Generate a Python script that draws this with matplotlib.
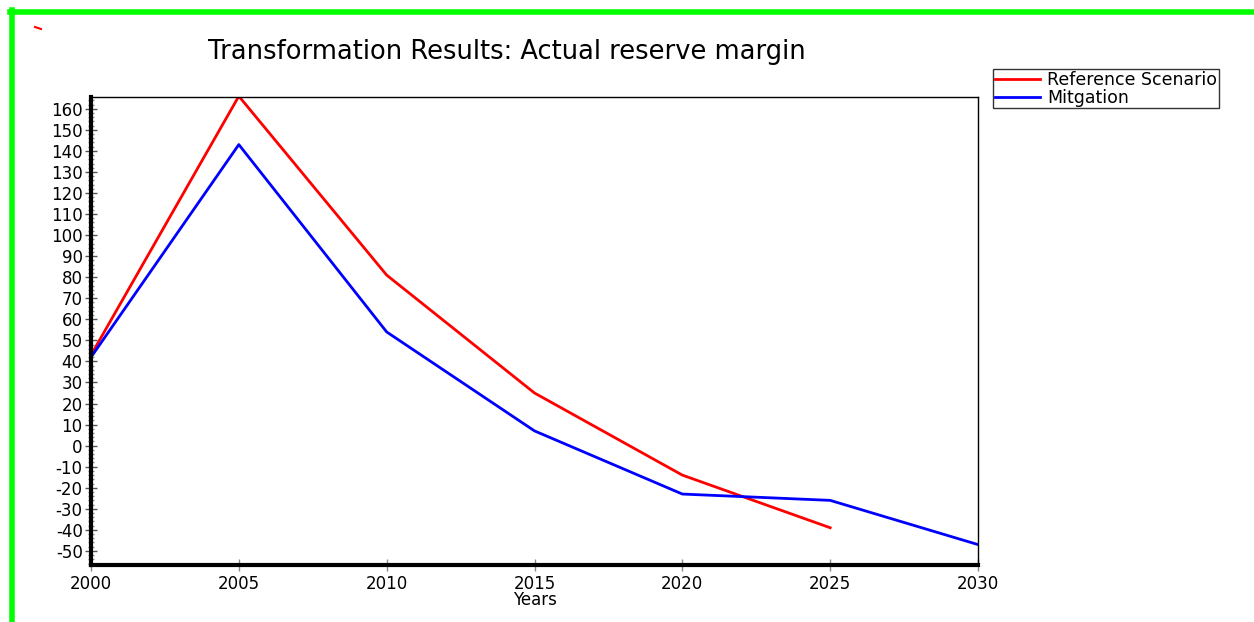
import numpy as np
import matplotlib.pyplot as plt
from matplotlib.lines import Line2D
from matplotlib.ticker import MultipleLocator

plt.rcParams['axes.unicode_minus'] = False

years_ref = [2000, 2005, 2010, 2015, 2020, 2025]
ref_vals = [43, 166, 81, 25, -14, -39]
years_mit = [2000, 2005, 2010, 2015, 2020, 2025, 2030]
mit_vals = [42, 143, 54, 7, -23, -26, -47]

fig = plt.figure(figsize=(12.54, 6.22), dpi=100)
ax = fig.add_axes([91/1254, 1 - 565/622, (978-91)/1254, (565-97)/622])

ax.plot(years_ref, ref_vals, color='#ff0000', lw=2, label='Reference Scenario')
ax.plot(years_mit, mit_vals, color='#0000ff', lw=2, label='Mitgation')

ax.set_xlim(2000, 2030)
ax.set_ylim(-56.7, 165.6)
ax.set_xticks(np.arange(2000, 2031, 5))
ax.yaxis.set_major_locator(MultipleLocator(10))
ax.yaxis.set_minor_locator(MultipleLocator(2))
ax.tick_params(axis='y', which='major', direction='inout', length=8, width=1, color='#555555', labelsize=12, pad=2)
ax.tick_params(axis='y', which='minor', direction='inout', length=5, width=1, color='#888888')
ax.tick_params(axis='x', which='major', direction='inout', length=8, width=1, color='#888888', labelsize=12, pad=3)
for s in ['left', 'bottom']:
    ax.spines[s].set_linewidth(3)
for s in ['top', 'right']:
    ax.spines[s].set_linewidth(1)
ax.set_xlabel('Years', fontsize=12, labelpad=-1)

fig.text(507/1254, 1 - 52/622, 'Transformation Results: Actual reserve margin',
         fontsize=18.5, ha='center', va='center')

handles, labels = ax.get_legend_handles_labels()
leg = fig.legend(handles, labels, loc='upper left', bbox_to_anchor=(993/1254, 1 - 69/622),
                 fontsize=12.5, frameon=True, fancybox=False, borderpad=0.1,
                 labelspacing=0.0, handlelength=2.6, handletextpad=0.4, borderaxespad=0)
leg.get_frame().set_edgecolor('black')
leg.get_frame().set_linewidth(1)

# green frame
fig.add_artist(Line2D([10/1254, 1], [1 - 12/622, 1 - 12/622], color='#00ff00', lw=4, transform=fig.transFigure))
fig.add_artist(Line2D([12/1254, 12/1254], [0, 1 - 10/622], color='#00ff00', lw=4, transform=fig.transFigure))
fig.add_artist(Line2D([35/1254, 41/1254], [1 - 27/622, 1 - 29/622], color='#ff0000', lw=1.5, transform=fig.transFigure))

fig.savefig('out.png', dpi=100)
